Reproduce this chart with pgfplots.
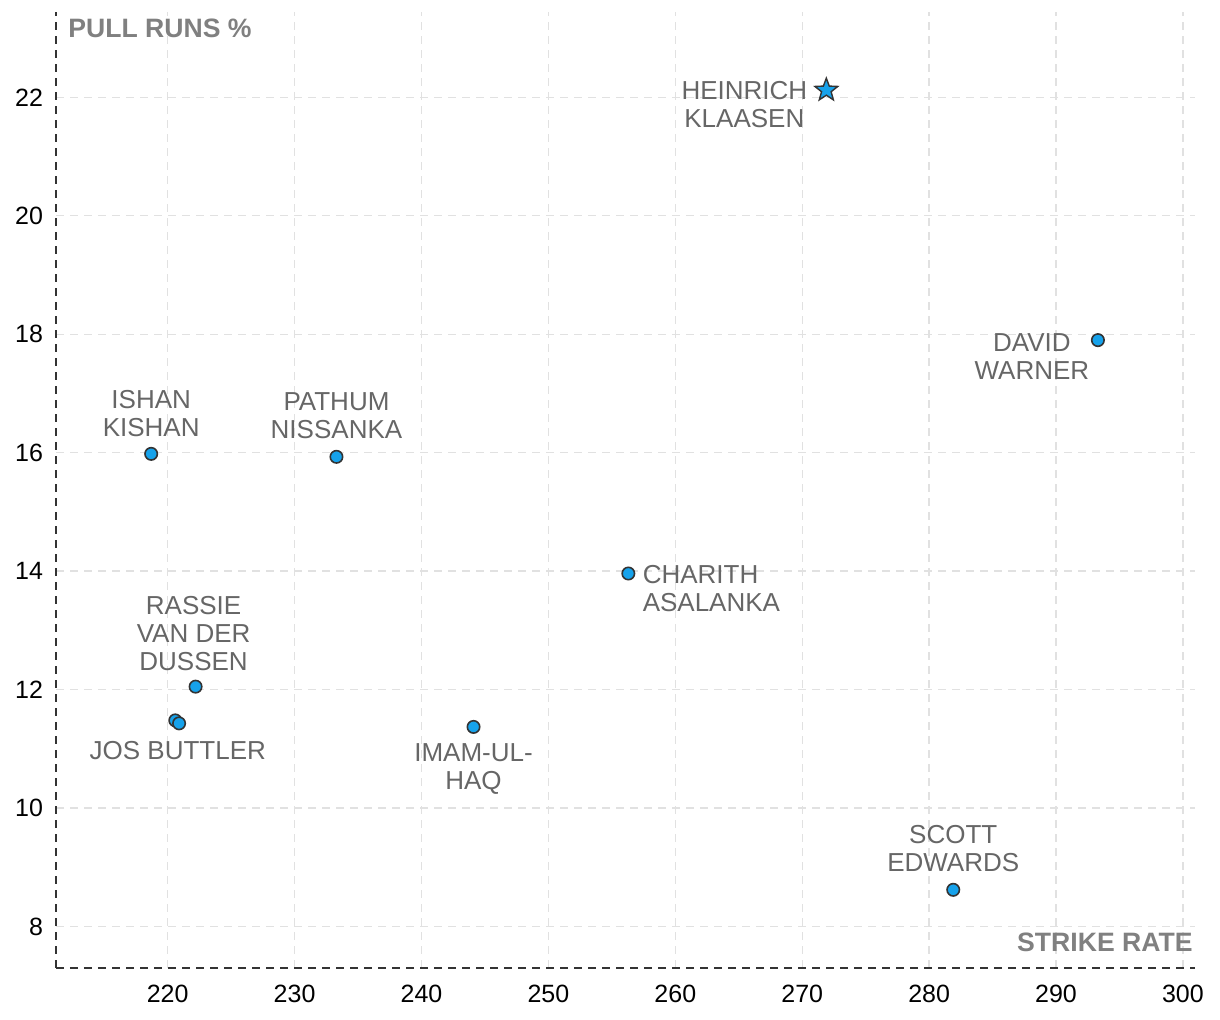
\documentclass[border=0pt]{standalone}
\usepackage{pgfplots}
\pgfplotsset{compat=1.18}
\usepackage{fontspec}
\setmainfont{Liberation Sans}
\usetikzlibrary{plotmarks}
\definecolor{dot}{RGB}{22,162,235}
\definecolor{lab}{RGB}{102,102,102}
\definecolor{ttl}{RGB}{128,128,128}
\definecolor{ax}{RGB}{51,51,51}
\definecolor{gridc}{RGB}{225,225,225}
\pgfdeclareplotmark{fstar}{%
  \pgfpathmoveto{\pgfpointpolar{90}{\pgfplotmarksize}}%
  \pgfpathlineto{\pgfpointpolar{126}{0.42\pgfplotmarksize}}%
  \pgfpathlineto{\pgfpointpolar{162}{\pgfplotmarksize}}%
  \pgfpathlineto{\pgfpointpolar{198}{0.42\pgfplotmarksize}}%
  \pgfpathlineto{\pgfpointpolar{234}{\pgfplotmarksize}}%
  \pgfpathlineto{\pgfpointpolar{270}{0.42\pgfplotmarksize}}%
  \pgfpathlineto{\pgfpointpolar{306}{\pgfplotmarksize}}%
  \pgfpathlineto{\pgfpointpolar{342}{0.42\pgfplotmarksize}}%
  \pgfpathlineto{\pgfpointpolar{18}{\pgfplotmarksize}}%
  \pgfpathlineto{\pgfpointpolar{54}{0.42\pgfplotmarksize}}%
  \pgfpathclose
  \pgfusepathqfillstroke}
\begin{document}
\begin{tikzpicture}
\useasboundingbox (0,0) rectangle (610pt,510pt);
\begin{axis}[
  at={(28pt,26pt)}, anchor=south west,
  width=569.5pt, height=478pt, scale only axis,
  xmin=211.2, xmax=300.95, ymin=7.3, ymax=23.44,
  axis x line*=bottom, axis y line*=left,
  axis line style={ax, line width=0.9pt, dash pattern=on 4pt off 3pt},
  xtick={220,230,...,300}, ytick={8,10,...,22},
  major tick length=0pt,
  grid=major,
  major grid style={gridc, line width=0.7pt, dash pattern=on 4pt off 3pt},
  tick label style={font=\fontsize{12.5}{14}\selectfont, black},
  /pgf/number format/assume math mode=true,
  xticklabel style={yshift=-5pt},
  yticklabel style={xshift=-3pt},
  clip=false,
]
\addplot[only marks, mark=*, mark size=3.1pt, mark options={fill=dot, draw=ax, line width=0.8pt}]
  coordinates {(293.3,17.9) (218.7,15.98) (233.3,15.93) (256.3,13.96) (222.2,12.05) (220.6,11.48) (220.9,11.43) (244.1,11.37) (281.9,8.62)};
\addplot[only marks, mark=fstar, mark size=6pt, mark options={fill=dot, draw=ax, line width=0.7pt}]
  coordinates {(271.9,22.12)};
\pgfplotsextra{
\begin{scope}[every node/.style={font=\fontsize{13}{14}\selectfont, text=lab, align=center, inner sep=0pt}]
\node[xshift=-41pt, yshift=-7pt] at (axis cs:271.9,22.12) {HEINRICH\\KLAASEN};
\node[xshift=-33pt, yshift=-8pt] at (axis cs:293.3,17.9) {DAVID\\WARNER};
\node[yshift=20pt] at (axis cs:218.7,15.98) {ISHAN\\KISHAN};
\node[yshift=20.5pt] at (axis cs:233.3,15.93) {PATHUM\\NISSANKA};
\node[anchor=west, align=left, xshift=7pt, yshift=-7.5pt] at (axis cs:256.3,13.96) {CHARITH\\ASALANKA};
\node[xshift=-1pt, yshift=26.5pt] at (axis cs:222.2,12.05) {RASSIE\\VAN DER\\DUSSEN};
\node[yshift=-14pt] at (axis cs:220.8,11.45) {JOS BUTTLER};
\node[yshift=-21pt] at (axis cs:244.1,11.37) {IMAM-UL-\\HAQ};
\node[yshift=20.5pt] at (axis cs:281.9,8.62) {SCOTT\\EDWARDS};
\end{scope}
\node[anchor=north west, font=\bfseries\fontsize{13.3}{14}\selectfont, text=ttl, inner sep=0pt] at ([xshift=6pt,yshift=-3.5pt]rel axis cs:0,1) {PULL RUNS \%};
\node[anchor=south east, font=\bfseries\fontsize{13.3}{14}\selectfont, text=ttl, inner sep=0pt] at ([xshift=-1pt,yshift=8pt]rel axis cs:1,0) {STRIKE RATE};
}
\end{axis}
\end{tikzpicture}
\end{document}
